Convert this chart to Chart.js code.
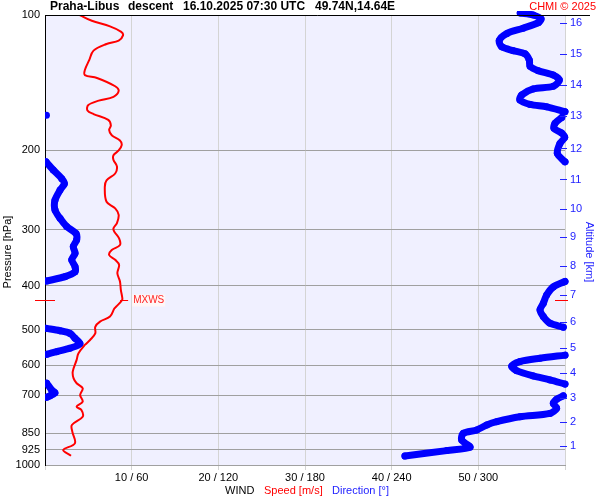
<!DOCTYPE html>
<html>
<head>
<meta charset="utf-8">
<script src="https://cdn.jsdelivr.net/npm/chart.js@4"></script>
<style>
  body { margin: 0; background: #ffffff; }
  #wrap { width: 600px; height: 500px; }
</style>
</head>
<body>
<div id="wrap"><canvas id="grafica" width="600" height="500"></canvas></div>
<script>
// wind speed profile (hPa, m/s)
const spdPres = [100,103,106,109,111,114,116,120,126,132.5,136,138,144,147.5,152,155,158.5,163,166,171,
  176,180,185,190,194.5,200,205,210,217,225,233,241,260,269,278,290,298,303,313.5,324.5,
  333,341.5,350,359,375,391,408,423,430,445,449,468,480,493,510,527.5,541,565,584,620,
  642,658,675.5,699,723,742,755,781,815,843,895,926,953.5];
const spdVal = [4.0,5.4,7.5,8.8,9.0,8.5,7.1,5.6,5.1,4.6,4.6,6.0,8.1,8.5,7.9,6.2,5.0,4.9,5.6,7.3,
  7.6,7.4,7.7,8.65,8.85,8.5,7.9,7.9,8.3,8.1,7.1,6.9,7.1,8.1,8.5,8.3,7.9,8.0,8.55,8.65,
  7.7,7.4,8.1,8.55,8.35,8.65,8.75,8.9,8.9,8.2,8.0,7.5,6.35,5.8,5.8,5.2,4.6,3.85,3.65,3.2,
  3.3,3.65,4.35,4.05,4.35,3.65,4.2,4.35,3.1,3.15,3.45,2.1,3.0];

// wind direction profile (hPa, deg), null = wrap 360/0
const dirPres = [99,100,102,104,107,110,114,117.6,120,122,126,130,133,136,139.5,144,146,150.6,154.5,158,160,164,null,
  167,null,
  169,174,178.6,183,187,193,203,212,null,
  212,221,231,237,245,258,271,283,295,306,316,327,338.5,350,362.5,372,381.5,390,null,
  391,402,419,437,452,468,484,494,null,
  497,503,510,523,538,550,560,567.5,null,
  570,579,589,603,617,634,647,661,null,
  658,681,691,702,707,null,
  702,714.5,729,748,768,781,801,815,836,850.5,880,913,929,955];
const dirDeg = [329,338,343.4,341.5,331,319.6,314.5,316.2,324.2,332.3,335.3,335.8,341.5,351.9,356.1,351.9,338,330,328.8,335.8,347.3,360,null,
  1,null,
  357.7,353.1,352.4,357.7,359.8,356.5,354.7,360,null,
  0.7,5.7,11.6,13.4,10.4,6.9,6.9,10.4,15,21.5,21.9,19.6,20.8,18.5,20.8,20.8,13.8,1.2,null,
  360,351.9,347.3,345,342.7,345,349.6,358.8,null,
  0.7,10.4,17.3,20.8,24.2,17.3,8.1,1.2,null,
  360,342.7,328.8,323.1,326.5,338,349.6,360,null,
  1.2,4.6,6.9,3.5,1.2,null,
  358.8,354.2,351.9,354.2,349.6,328.8,312.7,305.8,298.9,289.6,288.5,294.2,278.1,249.2];

const presTicks = [100,200,300,400,500,600,700,850,925,1000];
const altKm = [1,2,3,4,5,6,7,8,9,10,11,12,13,14,15,16];
const altPres = [906,801,711,626,549,480,418,362,312,270,232,198,168,143,122,104];

const mxwsPres = 430;
const mxwsSpeed = 8.9;

Chart.defaults.font.family = 'Arial, "Liberation Sans", sans-serif';
Chart.defaults.font.size = 11;
Chart.defaults.color = '#000';

const decor = {
  id: 'decor',
  beforeDraw(chart) {
    const {ctx, chartArea: a} = chart;
    ctx.save();
    ctx.fillStyle = '#f0f0ff';
    ctx.fillRect(a.left, a.top, a.right - a.left, a.bottom - a.top);
    ctx.restore();
  },
  afterDraw(chart) {
    const {ctx, chartArea: a, scales} = chart;
    ctx.save();
    // top line
    ctx.strokeStyle = '#000';
    ctx.lineWidth = 1;
    ctx.beginPath();
    ctx.moveTo(a.left, a.top + 0.5);
    ctx.lineTo(590, a.top + 0.5);
    ctx.stroke();

    // altitude ticks
    ctx.strokeStyle = '#2222ff';
    altPres.forEach(p => {
      const y = Math.round(scales.y.getPixelForValue(p)) + 0.5;
      ctx.beginPath();
      ctx.moveTo(a.right - 5, y);
      ctx.lineTo(a.right + 2, y);
      ctx.stroke();
    });

    // MXWS
    const ym = Math.round(scales.y.getPixelForValue(mxwsPres)) + 0.5;
    const xm = scales.x.getPixelForValue(mxwsSpeed);
    ctx.strokeStyle = '#ff0000';
    ctx.beginPath();
    ctx.moveTo(35, ym); ctx.lineTo(55, ym);
    ctx.moveTo(xm - 2, ym); ctx.lineTo(xm + 6, ym);
    ctx.moveTo(a.right - 10, ym); ctx.lineTo(a.right + 3, ym);
    ctx.stroke();
    ctx.font = '10px Arial';
    ctx.textBaseline = 'middle';
    ctx.textAlign = 'left';
    ctx.fillStyle = '#fff6f6';
    ctx.fillRect(xm + 10, ym - 6, 33, 12);
    ctx.fillStyle = '#ff2222';
    ctx.fillText('MXWS', xm + 11, ym);

    // title
    ctx.fillStyle = '#000';
    ctx.font = 'bold 12px Arial';
    ctx.fillText('Praha-Libus', 50, 7);
    ctx.fillText('descent', 128, 7);
    ctx.fillText('16.10.2025 07:30 UTC', 183, 7);
    ctx.fillText('49.74N,14.64E', 315, 7);
    ctx.font = '11px Arial';
    ctx.textAlign = 'right';
    ctx.fillStyle = '#ff0000';
    ctx.fillText('CHMI \u00a9 2025', 596, 7);

    // bottom legend
    ctx.textAlign = 'left';
    ctx.fillStyle = '#000';
    ctx.fillText('WIND', 225, 491);
    ctx.fillStyle = '#ff0000';
    ctx.fillText('Speed [m/s]', 264, 491);
    ctx.fillStyle = '#2222ff';
    ctx.fillText('Direction [\u00b0]', 332, 491);

    // axis titles
    ctx.textAlign = 'center';
    ctx.fillStyle = '#000';
    ctx.save();
    ctx.translate(8, 252);
    ctx.rotate(-Math.PI / 2);
    ctx.fillText('Pressure [hPa]', 0, 0);
    ctx.restore();
    ctx.fillStyle = '#2222ff';
    ctx.save();
    ctx.translate(589, 252);
    ctx.rotate(Math.PI / 2);
    ctx.fillText('Altitude [km]', 0, 0);
    ctx.restore();
    ctx.restore();
  }
};

const ctx = document.getElementById('grafica');

new Chart(ctx, {
  type: 'scatter',
  data: {
    datasets: [{
      label: 'Speed',
      data: spdPres.map((p, i) => ({x: spdVal[i], y: p})),
      showLine: true,
      borderColor: '#ff0000',
      borderWidth: 2,
      pointRadius: 0,
      tension: 0.35,
      xAxisID: 'x',
      yAxisID: 'y'
    }, {
      label: 'Direction',
      data: dirPres.map((p, i) => p === null ? {x: null, y: null} : {x: dirDeg[i], y: p}),
      showLine: true,
      spanGaps: false,
      borderColor: '#0000ff',
      borderWidth: 7,
      borderCapStyle: 'round',
      borderJoinStyle: 'round',
      pointRadius: 3.5,
      pointBorderWidth: 0,
      pointBackgroundColor: '#0000ff',
      tension: 0.3,
      clip: {left: 0, top: 4, right: 4, bottom: 0},
      xAxisID: 'x2',
      yAxisID: 'y'
    }]
  },
  options: {
    responsive: false,
    animation: false,
    layout: { padding: { top: 15, left: 0, right: 0, bottom: 0 } },
    plugins: {
      legend: { display: false },
      tooltip: { enabled: false }
    },
    scales: {
      x: {
        type: 'linear',
        position: 'bottom',
        min: 0,
        max: 60,
        afterFit: s => { s.height = 35; },
        ticks: {
          stepSize: 10,
          padding: 1,
          maxRotation: 0,
          callback: v => (v === 0 || v === 60) ? '' : v + ' / ' + v * 6
        },
        grid: { color: '#d4d4d4', tickColor: '#d4d4d4', tickLength: 5 },
        border: { color: '#a0a0a0' }
      },
      x2: {
        type: 'linear',
        min: 0,
        max: 360,
        display: false
      },
      y: {
        type: 'logarithmic',
        position: 'left',
        reverse: true,
        min: 100,
        max: 1000,
        afterFit: s => { s.width = 45; },
        afterBuildTicks: s => { s.ticks = presTicks.map(v => ({value: v})); },
        ticks: {
          padding: 5,
          callback: v => String(v)
        },
        grid: { color: '#a0a0a0', drawTicks: false },
        border: { color: '#000' }
      },
      y2: {
        type: 'logarithmic',
        position: 'right',
        reverse: true,
        min: 100,
        max: 1000,
        afterFit: s => { s.width = 35; },
        afterBuildTicks: s => { s.ticks = altPres.map(v => ({value: v})); },
        ticks: {
          color: '#2222ff',
          padding: 5,
          callback: v => String(altKm[altPres.indexOf(v)])
        },
        grid: { display: false, drawTicks: false },
        border: { display: false }
      }
    }
  },
  plugins: [decor]
});
</script>
</body>
</html>
